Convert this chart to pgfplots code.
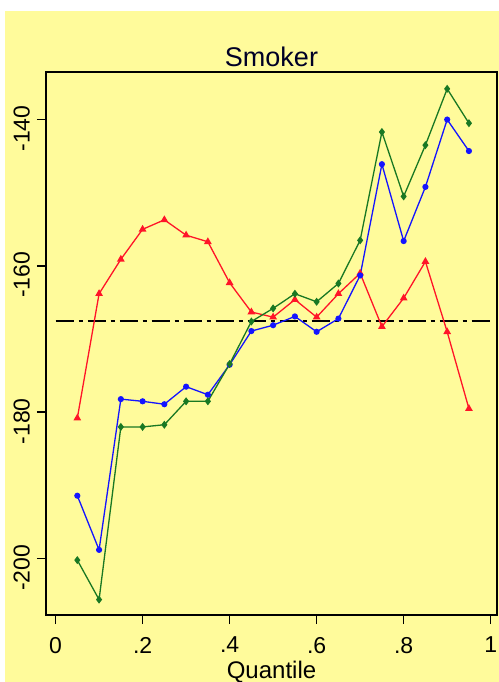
\documentclass[border=0pt]{standalone}
\usepackage{fontspec}
\setmainfont{Liberation Sans}
\usepackage{pgfplots}
\pgfplotsset{compat=1.18}
\definecolor{bgyellow}{RGB}{255,251,155}
\definecolor{sred}{RGB}{255,20,40}
\definecolor{sblue}{RGB}{20,20,255}
\definecolor{sgreen}{RGB}{25,120,35}
\begin{document}
\begin{tikzpicture}
\useasboundingbox (0,0) rectangle (249.5pt,341pt);
\fill[white] (0,0) rectangle (249.5pt,341pt);
\fill[bgyellow] (2.5pt,0) rectangle (249.5pt,335.5pt);
\begin{axis}[
  at={(23pt,33.5pt)}, anchor=south west,
  scale only axis, width=225.5pt, height=271.5pt,
  xmin=-0.022, xmax=1.0145, ymin=-207.7, ymax=-133.5,
  axis line style={black, line width=0.8pt},
  xtick={0,0.2,0.4,0.6,0.8,1},
  xticklabels={0,.2,.4,.6,.8,1},
  ytick={-200,-180,-160,-140},
  tick align=outside, tick pos=left,
  major tick length=4.5pt,
  tick style={black, line width=0.8pt},
  /pgf/number format/assume math mode=true,
  ticklabel style={font=\fontsize{11.5}{13}\selectfont},
  yticklabel style={rotate=90, anchor=south, xshift=-4.5pt},
  xticklabel style={yshift=-3pt},
  xlabel={Quantile},
  xlabel style={font=\fontsize{12}{14}\selectfont, at={(axis description cs:0.5,0)}, anchor=base, yshift=-31.5pt, inner sep=0pt},
  title={Smoker},
  title style={font=\fontsize{13.5}{16}\selectfont, text=black!85!blue, yshift=-7pt},
  clip=false,
]
\addplot[black, line width=1pt, dash pattern=on 9pt off 2.5pt on 2pt off 2.5pt] coordinates {(0,-167.5) (1,-167.5)};
\addplot[sred, line width=0.65pt, mark=triangle*, mark size=1.6pt] coordinates {
(0.05,-180.8) (0.10,-163.8) (0.15,-159.1) (0.20,-155.0) (0.25,-153.7)
(0.30,-155.8) (0.35,-156.7) (0.40,-162.3) (0.45,-166.3) (0.50,-167.0)
(0.55,-164.6) (0.60,-167.0) (0.65,-163.8) (0.70,-161.0) (0.75,-168.3)
(0.80,-164.4) (0.85,-159.4) (0.90,-169.0) (0.95,-179.5)};
\addplot[sblue, line width=0.65pt, mark=*, mark size=1.2pt] coordinates {
(0.05,-191.4) (0.10,-198.8) (0.15,-178.2) (0.20,-178.5) (0.25,-178.9)
(0.30,-176.5) (0.35,-177.6) (0.40,-173.5) (0.45,-168.9) (0.50,-168.1)
(0.55,-166.9) (0.60,-169.0) (0.65,-167.2) (0.70,-161.3) (0.75,-146.1)
(0.80,-156.6) (0.85,-149.2) (0.90,-140.0) (0.95,-144.3)};
\addplot[sgreen, line width=0.65pt, mark=diamond*, mark size=1.5pt] coordinates {
(0.05,-200.2) (0.10,-205.6) (0.15,-182.0) (0.20,-182.0) (0.25,-181.7)
(0.30,-178.5) (0.35,-178.5) (0.40,-173.4) (0.45,-167.6) (0.50,-165.8)
(0.55,-163.8) (0.60,-164.9) (0.65,-162.4) (0.70,-156.5) (0.75,-141.7)
(0.80,-150.5) (0.85,-143.5) (0.90,-135.8) (0.95,-140.5)};
\end{axis}
\end{tikzpicture}
\end{document}
